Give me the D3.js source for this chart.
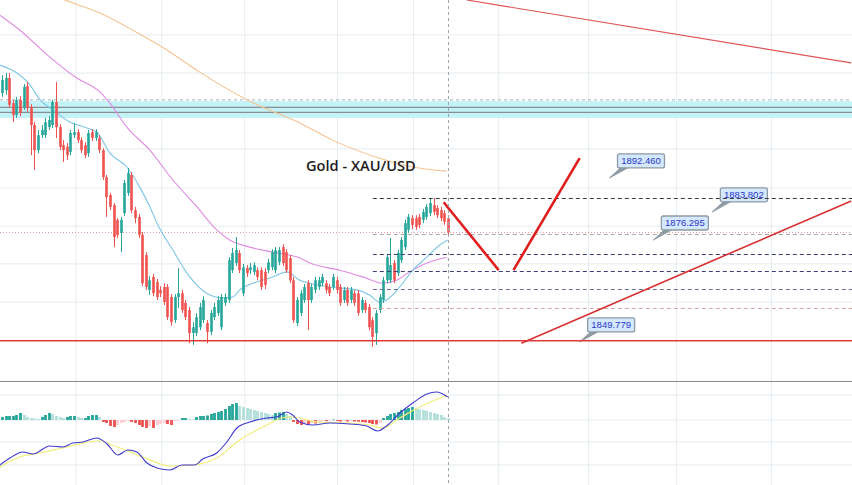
<!DOCTYPE html>
<html><head><meta charset="utf-8">
<script src="https://cdn.jsdelivr.net/npm/d3@7"></script>
<style>html,body{margin:0;padding:0;background:#fff;}svg{display:block}</style>
</head><body><svg id="c" width="852" height="485"></svg>
<script>
// ---------- DATA ----------
const opens = [1908.8,1909.5,1912.4,1906.4,1903.6,1907.2,1905.5,1910.5,1905.5,1901.2,
1895.2,1898.8,1898.8,1900.7,1901.2,1906.7,1900.7,1896.4,1896.0,1894.8,
1898.8,1899.5,1897.6,1896.4,1894.5,1899.5,1898.1,1898.1,1895.2,1888.8,
1884.5,1882.1,1878.6,1875.5,1880.2,1885.0,1889.3,1880.9,1879.3,1875.0,
1870.2,1861.9,1865.0,1863.8,1861.9,1862.6,1862.6,1860.2,1854.7,1860.2,
1861.1,1858.8,1857.1,1851.6,1851.6,1853.0,1854.7,1854.0,1851.9,1855.4,
1856.4,1853.0,1858.8,1859.5,1866.6,1868.3,1870.7,1861.1,1867.1,1866.6,
1866.2,1866.6,1866.6,1866.2,1866.6,1867.3,1866.6,1868.5,1872.1,1870.9,
1869.5,1864.2,1854.0,1856.4,1859.5,1863.5,1859.5,1861.9,1862.6,1863.5,
1863.5,1862.6,1862.6,1864.2,1862.6,1859.5,1861.9,1859.5,1861.1,1861.1,
1857.1,1858.8,1857.8,1854.7,1851.6,1857.1,1859.5,1864.2,1864.2,1868.3,
1865.9,1869.0,1872.1,1876.2,1879.0,1879.0,1879.3,1878.6,1879.3,1880.2,
1882.1,1881.4,1880.9,1880.2,1879.0];
const highs = [1913.1,1913.6,1913.6,1907.2,1907.9,1908.1,1911.0,1911.5,1906.2,1901.9,
1900.0,1901.2,1902.9,1903.3,1907.2,1911.5,1901.4,1897.6,1896.9,1900.0,
1901.7,1900.2,1898.3,1897.1,1900.0,1900.2,1900.2,1898.8,1895.7,1889.3,
1885.0,1882.6,1879.0,1879.3,1888.1,1891.0,1890.0,1881.7,1880.0,1875.7,
1870.9,1865.2,1865.7,1864.5,1862.8,1863.5,1863.3,1860.9,1860.9,1867.1,
1861.9,1859.5,1857.8,1854.2,1856.4,1858.8,1860.4,1854.7,1857.1,1858.8,
1860.4,1860.9,1861.1,1869.7,1871.9,1874.5,1871.4,1868.1,1867.8,1868.3,
1868.5,1867.3,1867.3,1867.1,1869.3,1871.6,1872.1,1872.1,1872.8,1871.6,
1870.2,1865.0,1860.2,1861.9,1863.3,1864.2,1863.3,1865.0,1865.0,1865.7,
1864.2,1863.3,1865.7,1865.0,1863.3,1862.6,1862.6,1862.6,1861.9,1861.9,
1860.2,1859.5,1858.5,1855.4,1857.1,1860.9,1865.0,1870.4,1874.3,1869.0,
1871.4,1874.5,1878.6,1880.0,1879.7,1879.7,1880.0,1881.2,1882.4,1883.8,
1883.8,1882.1,1881.7,1880.9,1879.7];
const lows = [1907.9,1908.4,1905.3,1901.9,1902.9,1903.3,1904.8,1904.3,1894.0,1890.5,
1894.5,1898.1,1898.1,1900.0,1900.5,1898.1,1895.2,1892.4,1892.9,1894.0,
1898.1,1896.9,1894.5,1893.3,1893.6,1897.4,1897.4,1894.5,1888.1,1879.3,
1880.9,1872.1,1874.3,1870.9,1879.5,1884.3,1880.2,1877.8,1874.3,1862.8,
1861.9,1860.7,1860.4,1859.5,1860.2,1858.3,1854.7,1853.3,1854.0,1857.6,
1856.4,1854.7,1849.2,1848.8,1850.9,1852.3,1854.0,1849.2,1851.1,1854.7,
1855.7,1852.3,1858.1,1858.8,1865.9,1867.6,1865.9,1860.4,1865.0,1865.7,
1865.4,1864.2,1861.9,1862.1,1865.9,1866.6,1865.9,1867.8,1867.6,1865.9,
1863.5,1854.0,1853.3,1855.7,1858.8,1852.3,1858.8,1861.1,1861.9,1862.8,
1861.1,1860.4,1861.9,1861.1,1858.1,1858.8,1858.1,1858.8,1858.1,1855.7,
1856.4,1856.4,1852.3,1848.3,1848.8,1856.4,1858.8,1863.5,1863.5,1863.5,
1865.2,1868.3,1871.4,1875.5,1876.4,1876.2,1876.6,1877.8,1878.6,1879.5,
1879.7,1879.0,1878.3,1877.4,1875.0];
const closes = [1911.9,1912.4,1906.0,1903.6,1907.2,1904.1,1910.3,1905.3,1901.2,1895.2,
1898.8,1900.0,1901.9,1902.4,1906.7,1900.7,1896.0,1895.2,1894.0,1899.3,
1899.5,1897.6,1895.2,1894.0,1899.3,1898.1,1899.5,1895.2,1888.8,1884.0,
1881.7,1874.5,1875.0,1878.6,1887.4,1889.8,1880.9,1879.0,1875.0,1863.5,
1862.6,1864.2,1861.1,1860.2,1861.1,1859.0,1855.4,1854.2,1860.2,1861.1,
1857.1,1855.4,1851.6,1853.0,1855.4,1857.8,1859.5,1851.9,1856.4,1857.8,
1859.5,1860.2,1860.2,1869.0,1870.7,1871.4,1866.6,1867.3,1865.9,1867.3,
1867.8,1865.0,1862.6,1863.1,1868.5,1870.9,1871.4,1871.4,1868.3,1866.6,
1864.2,1854.7,1859.5,1861.1,1862.6,1859.5,1862.6,1864.2,1864.2,1865.0,
1861.9,1861.1,1865.0,1861.9,1858.8,1861.9,1858.8,1861.9,1858.8,1856.4,
1859.5,1857.1,1853.0,1850.7,1856.4,1860.2,1864.2,1869.7,1867.8,1864.2,
1870.7,1873.8,1877.8,1879.3,1877.4,1876.9,1877.4,1880.5,1881.7,1882.6,
1880.5,1879.7,1879.0,1878.1,1875.7];

// moving averages: [bar index, price]
const maFast = [[-0.6,1915.5],[7.8,1910.7],[10.6,1907.2],[14.2,1904.8],[18.9,1901.9],[23.6,1900.5],[26.4,1899.5],[30.0,1894.5],[34.7,1891.2],[38.3,1886.4],[41.1,1881.7],[43.1,1877.8],[47.5,1871.4],[52.2,1865.0],[56.9,1861.1],[61.4,1860.0],[64.2,1860.2],[66.1,1861.9],[70.8,1863.8],[75.3,1865.0],[79.2,1866.2],[82.8,1864.2],[85.6,1863.5],[91.1,1862.6],[98.6,1861.9],[102.2,1860.7],[105.0,1859.0],[106.9,1859.5],[110.6,1862.6],[114.2,1866.6],[118.1,1869.7],[121.7,1872.6],[123.9,1873.8]];
const maMid = [[-0.6,1927.4],[5.0,1923.8],[13.3,1917.4],[20.8,1912.4],[27.2,1909.1],[30.0,1906.4],[34.7,1900.7],[41.1,1895.2],[47.5,1888.1],[54.2,1881.7],[59.7,1876.2],[63.3,1873.8],[68.9,1872.1],[75.3,1870.9],[82.8,1869.5],[85.6,1868.3],[93.9,1866.6],[100.3,1865.0],[105.8,1863.5],[109.7,1864.2],[113.3,1866.2],[118.1,1868.3],[123.6,1869.7]];
const maSlow = [[16.1,1931.5],[17.5,1931.0],[27.2,1927.9],[36.4,1923.8],[45.8,1919.1],[55.0,1913.8],[68.1,1907.2],[82.8,1901.7],[91.9,1897.6],[105.0,1893.3],[114.2,1891.2],[123.6,1890.2]];

// MACD pane
const histogram = [0.3,0.4,0.4,0.4,0.5,0.7,0.5,0.3,0.2,0.15,
0.1,0.3,0.5,0.7,0.6,0.4,0.3,0.2,0.3,0.4,
0.4,0.3,0.2,0.2,0.4,0.5,0.5,0.3,-0.2,-0.3,
-0.6,-0.7,-0.5,-0.3,-0.2,-0.1,-0.2,-0.3,-0.5,-0.7,
-0.8,-0.6,-0.8,-0.5,-0.4,-0.3,-0.4,-0.5,-0.1,-0.05,
0.2,0.2,0.1,0.05,0.3,0.4,0.4,0.45,0.6,0.7,
0.8,0.9,1.1,1.4,1.6,1.7,1.4,1.3,1.2,1.1,
1.0,0.9,0.8,0.7,0.6,0.5,0.7,0.75,0.8,0.6,
0.4,-0.2,-0.4,-0.5,-0.4,-0.45,-0.3,-0.35,-0.2,-0.1,
-0.12,-0.1,0.05,-0.1,-0.15,-0.1,-0.15,-0.1,-0.15,-0.18,
-0.2,-0.25,-0.3,-0.4,-0.45,-0.3,0.2,0.4,0.6,0.7,
0.8,1.0,1.1,1.2,1.3,1.2,1.1,1.0,0.9,0.8,
0.7,0.6,0.5,0.3,0.2];
const macdLine = [[-0.6,-4.5],[2.2,-3.8],[5.8,-3.2],[8.6,-3.4],[13.3,-2.6],[16.9,-2.7],[19.7,-2.3],[22.5,-2.2],[26.4,-1.8],[29.2,-2.4],[32.2,-3.5],[35.0,-3.0],[37.5,-3.2],[40.3,-4.3],[43.1,-4.8],[46.7,-5.0],[50.0,-4.5],[53.6,-4.5],[55.8,-3.9],[59.7,-3.3],[62.5,-2.2],[65.3,-0.8],[68.9,-0.2],[73.6,0.2],[76.4,0.3],[79.2,0.8],[80.8,0.5],[82.8,-0.2],[86.4,-0.5],[91.1,-0.3],[96.7,-0.4],[101.4,-0.6],[104.4,-1.1],[106.9,-0.6],[110.6,0.7],[114.2,1.7],[118.1,2.6],[120.8,2.8],[123.9,2.3]];
const signalLine = [[-0.6,-4.7],[5.0,-3.7],[10.6,-3.3],[18.1,-2.7],[26.4,-2.1],[32.8,-2.8],[39.2,-3.7],[46.7,-4.6],[53.1,-4.5],[59.7,-3.8],[66.1,-2.0],[72.5,-0.7],[79.2,0.3],[82.8,0.2],[87.5,-0.2],[96.7,-0.3],[102.2,-0.5],[105.8,-0.8],[110.6,0.2],[116.1,1.3],[123.9,2.5]];

// grid / ticks
const timeGridIdx = [20.6,44.4,67.5,93.3,114.4,138.1,163.1,187.5,213.9];
const priceGrid = [1922.7,1913.6,1904.5,1895.5,1886.2,1877.1,1868.1,1859.0,1849.9];
const macdGrid = [2.5,0,-2.2,-4.5];

// drawings
const supportPrice = 1849.779;
const zoneTop = 1906.9, zoneBottom = 1902.9, zoneLines = [1905.4, 1904.2], zoneDash = 1907.2;
const resistanceLine = [[129.2,1931.0],[236.1,1916.0]];
const risingTrend = [[144.4,1849.2],[236.1,1883.1]];
const projLeg1 = [[122.8,1882.8],[138.1,1866.6]];
const projLeg2 = [[142.2,1866.6],[160.6,1893.3]];
const levelStartIdx = 103.1;
const levelPrices = [1883.8,1875.2,1870.4,1866.4,1862.1,1857.6];
const calloutText = ["1892.460","1883.802","1876.295","1849.779"];
const calloutAnchor = [[168.9,1888.6],[197.5,1880.5],[181.1,1873.8],[160.6,1849.5]];
const title = "Gold - XAU/USD";

// ---------- RENDER ----------
const W = 852, H = 485, PANE = 381;
const svg = d3.select('#c');
const N = opens.length;
const x = d3.scaleLinear().domain([0, N-1]).range([2, 448]);
const y = d3.scaleLinear().domain([1931, 1844]).range([0, 365]);
const ym = d3.scaleLinear().domain([3.9, -6.5]).range([PANE, H]);

const defs = svg.append('defs');
defs.append('clipPath').attr('id','cm').append('rect').attr('x',0).attr('y',0).attr('width',W).attr('height',PANE);
defs.append('clipPath').attr('id','cb').append('rect').attr('x',0).attr('y',PANE).attr('width',W).attr('height',H-PANE);

const gridC = '#e6ecf0';
svg.append('g').selectAll('line').data(timeGridIdx).join('line')
  .attr('x1',d=>x(d)).attr('x2',d=>x(d)).attr('y1',0).attr('y2',H)
  .attr('stroke',gridC).attr('stroke-width',1);
svg.append('g').selectAll('line').data(priceGrid).join('line')
  .attr('x1',0).attr('x2',W).attr('y1',d=>y(d)).attr('y2',d=>y(d))
  .attr('stroke',gridC).attr('stroke-width',1);
svg.append('g').selectAll('line').data(macdGrid).join('line')
  .attr('x1',0).attr('x2',W).attr('y1',d=>ym(d)).attr('y2',d=>ym(d))
  .attr('stroke',gridC).attr('stroke-width',1);

const main = svg.append('g').attr('clip-path','url(#cm)');

main.append('rect').attr('x',0).attr('width',W).attr('y',y(zoneTop)).attr('height',y(zoneBottom)-y(zoneTop))
  .attr('fill','#c4f3f7');
main.append('line').attr('x1',0).attr('x2',W).attr('y1',y(zoneDash)).attr('y2',y(zoneDash))
  .attr('stroke','#9fb4bb').attr('stroke-dasharray','3,3');
main.selectAll('.zl').data(zoneLines).join('line').attr('x1',0).attr('x2',W)
  .attr('y1',d=>y(d)).attr('y2',d=>y(d)).attr('stroke','#888e92').attr('stroke-width',1.2);

const lastC = closes[N-1];
main.append('line').attr('x1',0).attr('x2',W).attr('y1',y(lastC)+0.5).attr('y2',y(lastC)+0.5)
  .attr('stroke','#e79a9a').attr('stroke-dasharray','1,2');

const ln = d3.line().x(d=>x(d[0])).y(d=>y(d[1])).curve(d3.curveMonotoneX);
main.append('path').attr('d',ln(maSlow)).attr('fill','none').attr('stroke','#f5c28f').attr('stroke-width',1.1);
main.append('path').attr('d',ln(maMid)).attr('fill','none').attr('stroke','#e08ae0').attr('stroke-width',1.1);
main.append('path').attr('d',ln(maFast)).attr('fill','none').attr('stroke','#7cc6e4').attr('stroke-width',1.1);

const up='#26a69a', dn='#ef5350';
const cg = main.append('g');
const idx = d3.range(N);
cg.selectAll('.w').data(idx).join('line')
  .attr('x1',i=>Math.round(x(i))+0.5).attr('x2',i=>Math.round(x(i))+0.5)
  .attr('y1',i=>y(highs[i])).attr('y2',i=>y(lows[i]))
  .attr('stroke',i=>closes[i]>=opens[i]?up:dn).attr('stroke-width',1);
cg.selectAll('.b').data(idx).join('rect')
  .attr('x',i=>Math.round(x(i))+0.5-1.3).attr('width',2.6)
  .attr('y',i=>y(Math.max(opens[i],closes[i])))
  .attr('height',i=>Math.max(1,Math.abs(y(opens[i])-y(closes[i]))))
  .attr('fill',i=>closes[i]>=opens[i]?up:dn);

const cgp = main.append('g');
calloutText.forEach((t,k)=>{
  const ax=x(calloutAnchor[k][0]), ay=y(calloutAnchor[k][1]);
  const bx=ax+8, by=ay-24, bw=47, bh=14;
  const g=cgp.append('g');
  g.append('path').attr('d',`M${ax},${ay} L${bx+4},${by+bh-1} L${bx+12},${by+bh-1} Z`)
    .attr('fill','#8e9aa4').attr('stroke','#8e9aa4').attr('stroke-width',1);
  g.append('rect').attr('x',bx).attr('y',by).attr('width',bw).attr('height',bh).attr('rx',2)
    .attr('fill','#d3e8fc').attr('stroke','#8e9aa4').attr('stroke-width',1.3);
  g.append('text').attr('x',bx+bw/2).attr('y',by+bh/2+3.4).attr('text-anchor','middle')
    .attr('font-family','Liberation Sans, Arial, sans-serif').attr('font-size',9.5)
    .attr('fill','#2a36c8').text(t);
});

const lvlColors=['#3a3a3a','#a9a9a9','#3d3d78','#3d3d78','#6d6d9c','#dca3a3'];
main.selectAll('.lv').data(levelPrices).join('line')
  .attr('x1',x(levelStartIdx)).attr('x2',W)
  .attr('y1',d=>Math.round(y(d))+0.5).attr('y2',d=>Math.round(y(d))+0.5)
  .attr('stroke',(d,i)=>lvlColors[i]).attr('stroke-width',1).attr('stroke-dasharray','4,3');

main.append('line').attr('x1',0).attr('x2',W).attr('y1',y(supportPrice)).attr('y2',y(supportPrice))
  .attr('stroke','#e53935').attr('stroke-width',1.6);
const lr = d3.line().x(d=>x(d[0])).y(d=>y(d[1]));
main.append('path').attr('d',lr(resistanceLine)).attr('stroke','#e05555').attr('stroke-width',1.2).attr('fill','none');
main.append('path').attr('d',lr(risingTrend)).attr('stroke','#d83030').attr('stroke-width',1.6).attr('fill','none');
main.append('path').attr('d',lr(projLeg1)).attr('stroke','#e01e1e').attr('stroke-width',2.6).attr('fill','none');
main.append('path').attr('d',lr(projLeg2)).attr('stroke','#e01e1e').attr('stroke-width',2.6).attr('fill','none');

svg.append('text').attr('x',306).attr('y',171).attr('font-family','Open Sans, sans-serif')
  .attr('font-weight',600).attr('font-size',14.6).attr('fill','#1c1c1c').text(title);

svg.append('line').attr('x1',0).attr('x2',W).attr('y1',PANE+0.5).attr('y2',PANE+0.5).attr('stroke','#8a8a8a').attr('stroke-width',1);

const bot = svg.append('g').attr('clip-path','url(#cb)');
bot.selectAll('.h').data(idx).join('rect')
  .attr('x',i=>Math.round(x(i))+0.5-1.4).attr('width',2.8)
  .attr('y',i=>Math.min(ym(0),ym(histogram[i])))
  .attr('height',i=>Math.max(0.6,Math.abs(ym(histogram[i])-ym(0))))
  .attr('fill',i=>{const v=histogram[i], p=i>0?histogram[i-1]:0;
     if(v>=0) return v>=p?'#26a69a':'#b2dfdb';
     return v<=p?'#ef5350':'#ffcdd2';});
const lm = d3.line().x(d=>x(d[0])).y(d=>ym(d[1])).curve(d3.curveMonotoneX);
bot.append('path').attr('d',lm(signalLine)).attr('fill','none').attr('stroke','#f2ee7a').attr('stroke-width',1.2);
bot.append('path').attr('d',lm(macdLine)).attr('fill','none').attr('stroke','#3f3acb').attr('stroke-width',1.1);

svg.append('line').attr('x1',Math.round(x(N-1))+0.5).attr('x2',Math.round(x(N-1))+0.5).attr('y1',0).attr('y2',H)
  .attr('stroke','#9aa6ad').attr('stroke-width',1).attr('stroke-dasharray','3,3');
</script></body></html>
